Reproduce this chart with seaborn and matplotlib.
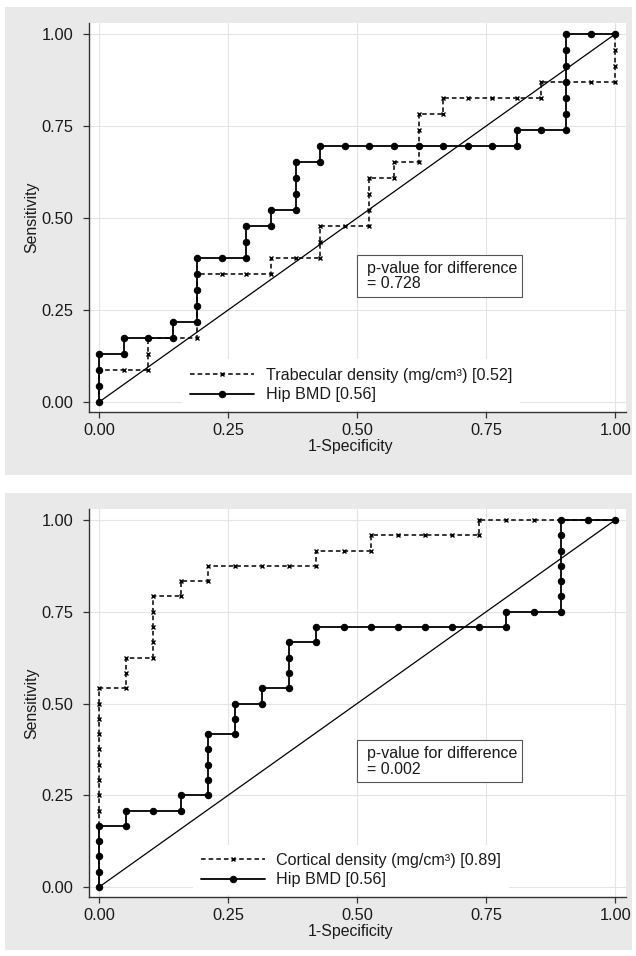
import matplotlib
matplotlib.use("Agg")
import matplotlib.pyplot as plt
import seaborn as sns
import pandas as pd
from matplotlib.patches import Rectangle

# ROC points, as counts of false / true positives
# top panel: trabecular density vs hip BMD
top_n_neg = 21
top_n_pos = 23
top_dens_fp = [0, 0, 0, 1, 2, 2, 2, 3, 4, 4, 4, 4, 4, 5, 6, 7, 7, 8, 9, 9, 9, 10, 11,
               11, 11, 11, 12, 12, 13, 13, 13, 13, 14, 14, 15, 16, 17, 18, 18, 19,
               20, 21, 21, 21, 21]
top_dens_tp = [0, 1, 2, 2, 2, 3, 4, 4, 4, 5, 6, 7, 8, 8, 8, 8, 9, 9, 9, 10, 11, 11, 11,
               12, 13, 14, 14, 15, 15, 16, 17, 18, 18, 19, 19, 19, 19, 19, 20, 20,
               20, 20, 21, 22, 23]
top_hip_fp = [0, 0, 0, 0, 1, 1, 2, 3, 3, 4, 4, 4, 4, 4, 5, 6, 6, 6, 7, 7, 8, 8, 8, 8,
              9, 9, 10, 11, 12, 13, 14, 15, 16, 17, 17, 18, 19, 19, 19, 19, 19, 19,
              19, 20, 21]
top_hip_tp = [0, 1, 2, 3, 3, 4, 4, 4, 5, 5, 6, 7, 8, 9, 9, 9, 10, 11, 11, 12, 12, 13,
              14, 15, 15, 16, 16, 16, 16, 16, 16, 16, 16, 16, 17, 17, 17, 18, 19, 20,
              21, 22, 23, 23, 23]
top_dens_label = "Trabecular density (mg/cm\u00b3) [0.52]"
top_hip_label = "Hip BMD [0.56]"
top_pvalue = "0.728"

# bottom panel: cortical density vs hip BMD
bot_n_neg = 19
bot_n_pos = 24
bot_dens_fp = [0] * 14 + [1, 1, 1, 2, 2, 2, 2, 2, 3, 3, 4, 4, 5, 6, 7, 8, 8, 9, 10, 10,
                          11, 12, 13, 14, 14, 15, 16, 17, 18, 19]
bot_dens_tp = [0, 1, 2, 3, 4, 5, 6, 7, 8, 9, 10, 11, 12, 13, 13, 14, 15, 15, 16, 17, 18,
               19, 19, 20, 20, 21, 21, 21, 21, 21, 22, 22, 22, 23, 23, 23, 23, 23, 24,
               24, 24, 24, 24, 24]
bot_hip_fp = [0, 0, 0, 0, 0, 1, 1, 2, 3, 3, 4, 4, 4, 4, 4, 5, 5, 5, 6, 6, 7, 7, 7, 7, 8,
              8, 9, 10, 11, 12, 13, 14, 15, 15, 16, 17, 17, 17, 17, 17, 17, 17, 18, 19]
bot_hip_tp = [0, 1, 2, 3, 4, 4, 5, 5, 5, 6, 6, 7, 8, 9, 10, 10, 11, 12, 12, 13, 13, 14,
              15, 16, 16, 17, 17, 17, 17, 17, 17, 17, 17, 18, 18, 18, 19, 20, 21, 22,
              23, 24, 24, 24]
bot_dens_label = "Cortical density (mg/cm\u00b3) [0.89]"
bot_hip_label = "Hip BMD [0.56]"
bot_pvalue = "0.002"

diag_ref = [0.0, 1.0]
tick_vals = [0.0, 0.25, 0.5, 0.75, 1.0]
tick_labels = ["0.00", "0.25", "0.50", "0.75", "1.00"]

sns.set_theme(style="white")
plt.rcParams["font.family"] = ["Liberation Sans", "DejaVu Sans"]
plt.rcParams["text.color"] = "#1a1a1a"

INK = "#1a1a1a"
BG = "#e9e9e9"


def draw_panel(ax, n_neg, n_pos, dens_fp, dens_tp, hip_fp, hip_tp,
               dens_label, hip_label, pval):
    dens = pd.DataFrame({"fpr": [v / n_neg for v in dens_fp],
                         "tpr": [v / n_pos for v in dens_tp]})
    hip = pd.DataFrame({"fpr": [v / n_neg for v in hip_fp],
                        "tpr": [v / n_pos for v in hip_tp]})

    ax.set_facecolor("white")
    ax.grid(True, color="#e3e3e3", lw=0.8)
    ax.set_axisbelow(True)

    sns.lineplot(data=dens, x="fpr", y="tpr", sort=False, estimator=None,
                 color="black", lw=1.1, linestyle=(0, (3, 2)), marker="x",
                 markersize=3.2, mew=1.0, mec="black", label=dens_label, ax=ax)
    sns.lineplot(data=hip, x="fpr", y="tpr", sort=False, estimator=None,
                 color="black", lw=1.3, marker="o", markersize=4.6,
                 mec="black", mfc="black", label=hip_label, ax=ax)
    sns.lineplot(x=diag_ref, y=diag_ref, color="black", lw=0.9, ax=ax)

    ax.set_xlim(-0.0194, 1.021)
    ax.set_ylim(-0.027, 1.030)
    ax.set_xticks(tick_vals)
    ax.set_xticklabels(tick_labels)
    ax.set_yticks(tick_vals)
    ax.set_yticklabels(tick_labels)
    ax.tick_params(axis="both", direction="out", length=4, width=0.9,
                   color="#333333", labelsize=11.8, labelcolor=INK,
                   left=True, bottom=True)
    ax.tick_params(axis="y", pad=7.5)
    ax.tick_params(axis="x", pad=4)

    sns.despine(ax=ax)
    for s in ["left", "bottom"]:
        ax.spines[s].set_color("#333333")
        ax.spines[s].set_linewidth(1.0)

    ax.set_xlabel("1-Specificity", fontsize=11.4, color=INK)
    ax.set_ylabel("Sensitivity", fontsize=11.4, color=INK)
    ax.xaxis.set_label_coords(0.488, -0.070)
    ax.yaxis.set_label_coords(-0.092, 0.5)

    # p-value box
    ax.add_patch(Rectangle((0.5, 0.285), 0.32, 0.115, fc="white",
                           ec="#555555", lw=0.8, zorder=3))
    ax.text(0.52, 0.3425, "p-value for difference\n= " + pval, ha="left",
            va="center", fontsize=11.5, linespacing=1.05, zorder=4)

    leg = ax.legend(loc="lower center", bbox_to_anchor=(0.488, 0.004),
                    frameon=True, fancybox=False, edgecolor="white",
                    facecolor="white", framealpha=1, fontsize=11.6,
                    handlelength=4.0, handletextpad=0.7, labelspacing=0.3,
                    borderpad=0.5, borderaxespad=0)
    leg.get_frame().set_linewidth(0)


fig = plt.figure(figsize=(6.36, 9.56), dpi=100)
fig.patch.set_facecolor("white")

# gray graph regions behind each panel
fig.patches.append(Rectangle((5 / 636, 1 - 475 / 956), 627 / 636, 468 / 956,
                             transform=fig.transFigure, fc=BG, ec="none", zorder=-5))
fig.patches.append(Rectangle((5 / 636, 1 - 950 / 956), 627 / 636, 457 / 956,
                             transform=fig.transFigure, fc=BG, ec="none", zorder=-5))

ax_top = fig.add_axes([89 / 636, 1 - 412 / 956, 537 / 636, 389 / 956])
ax_bot = fig.add_axes([89 / 636, 1 - 897 / 956, 537 / 636, 388 / 956])

draw_panel(ax_top, top_n_neg, top_n_pos, top_dens_fp, top_dens_tp,
           top_hip_fp, top_hip_tp, top_dens_label, top_hip_label, top_pvalue)
draw_panel(ax_bot, bot_n_neg, bot_n_pos, bot_dens_fp, bot_dens_tp,
           bot_hip_fp, bot_hip_tp, bot_dens_label, bot_hip_label, bot_pvalue)

fig.savefig("out.png", dpi=100, facecolor=fig.get_facecolor())
